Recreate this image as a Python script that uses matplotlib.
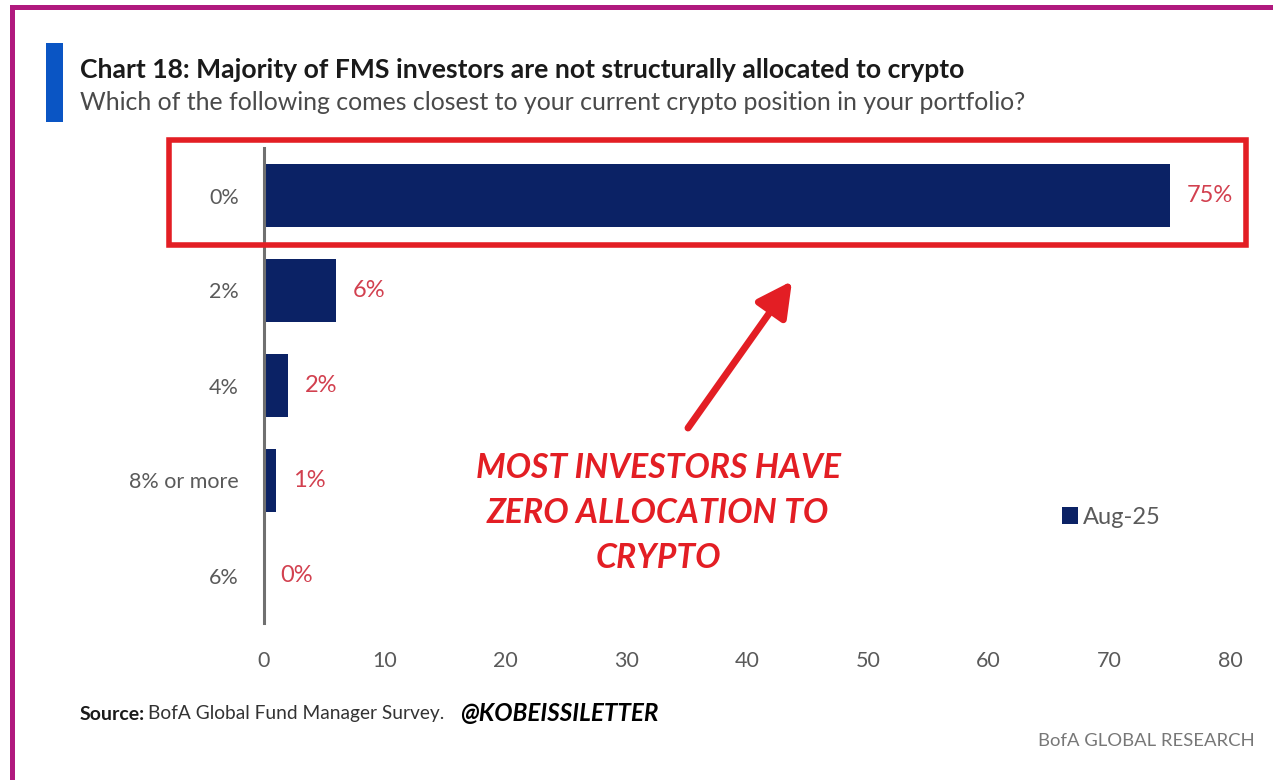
import matplotlib.pyplot as plt
from matplotlib.patches import Rectangle

# survey answers, top to bottom
categories = ['0%', '2%', '4%', '8% or more', '6%']
shares = [75, 6, 2, 1, 0]
series_name = 'Aug-25'
x_ticks = [0, 10, 20, 30, 40, 50, 60, 70, 80]

NAVY = '#0b2265'
LABEL_RED = '#d2404f'
ALERT_RED = '#e31e24'
GREY = '#5a5a5a'
FRAME = '#b0197e'

plt.rcParams['font.family'] = ['Lato', 'DejaVu Sans']

W, H = 1273, 780
fig = plt.figure(figsize=(W / 100, H / 100), dpi=100)
fig.patch.set_facecolor('white')


def fx(px):
    return px / W


def fy(py):
    return 1 - py / H


ax = fig.add_axes([fx(264), fy(623), fx(1230) - fx(264), fy(148) - fy(623)])
ypos = range(len(categories))
ax.barh(ypos, shares, height=0.66, color=NAVY, label=series_name, zorder=2)
for y, v in zip(ypos, shares):
    ax.annotate(f'{v}%', (v, y), xytext=(12, 0), textcoords='offset points',
                va='center', ha='left', color=LABEL_RED, fontsize=17)

ax.set_xlim(0, 80)
ax.set_ylim(len(categories) - 0.5, -0.5)
ax.set_xticks(x_ticks)
ax.set_yticks(list(ypos))
ax.set_yticklabels(categories)
ax.tick_params(axis='both', length=0, labelcolor=GREY, labelsize=15.5)
ax.tick_params(axis='y', pad=18)
ax.tick_params(axis='x', pad=20)
for side in ['top', 'right', 'bottom']:
    ax.spines[side].set_visible(False)
ax.spines['left'].set_color('#707070')
ax.spines['left'].set_linewidth(2.2)
ax.spines['left'].set_zorder(3)

leg = ax.legend(loc='center left', bbox_to_anchor=((1050 - 264) / 966, (623 - 517) / 475),
                frameon=False, fontsize=17, handlelength=0.7, handleheight=0.7,
                handletextpad=0.2, borderpad=0)
for t in leg.get_texts():
    t.set_color(GREY)

# frame around the page
fig.add_artist(Rectangle((fx(10), 0), fx(5), fy(10), transform=fig.transFigure,
                         color=FRAME, lw=0))
fig.add_artist(Rectangle((fx(10), fy(10)), 1 - fx(10), fy(5) - fy(10),
                         transform=fig.transFigure, color=FRAME, lw=0))

# title block
fig.add_artist(Rectangle((fx(46), fy(122)), fx(17), fy(43) - fy(122),
                         transform=fig.transFigure, color='#0a55c4', lw=0))
fig.text(fx(80), fy(70), 'Chart 18: Majority of FMS investors are not structurally allocated to crypto',
         fontsize=19.1, fontweight='bold', color='#1a1a1a', va='center')
fig.text(fx(80), fy(103), 'Which of the following comes closest to your current crypto position in your portfolio?',
         fontsize=17.9, color='#4a4a4a', va='center')

# highlight around the top answer
fig.add_artist(Rectangle((fx(169), fy(245)), fx(1246) - fx(169), fy(140) - fy(245),
                         transform=fig.transFigure, fill=False, ec=ALERT_RED, lw=4))
ax.annotate('', xy=(fx(792), fy(281)), xytext=(fx(688), fy(428)),
            xycoords='figure fraction', textcoords='figure fraction',
            arrowprops=dict(arrowstyle='-|>,head_length=2.1,head_width=1.1',
                            color=ALERT_RED, lw=5, shrinkA=0, shrinkB=0))
fig.text(fx(658), fy(513), 'MOST INVESTORS HAVE\nZERO ALLOCATION TO\nCRYPTO',
         ha='center', va='center', color=ALERT_RED, fontsize=24.3,
         fontweight='bold', fontstyle='italic', linespacing=1.5)

# footer
src = fig.text(fx(80), fy(714), 'Source:', fontsize=14, fontweight='bold',
               color='#1a1a1a', va='center')
fig.canvas.draw()
bb = src.get_window_extent()
fig.text(bb.x1 / W + fx(3), fy(714), 'BofA Global Fund Manager Survey.', fontsize=13.8,
         color='#333333', va='center')
fig.text(fx(460), fy(714), '@KOBEISSILETTER', fontsize=17.5, fontweight='bold',
         fontstyle='italic', color='black', va='center')
fig.text(fx(1255), fy(741), 'BofA GLOBAL RESEARCH', fontsize=13.3, color='#777777',
         ha='right', va='center')

fig.savefig('out.png', dpi=100)
